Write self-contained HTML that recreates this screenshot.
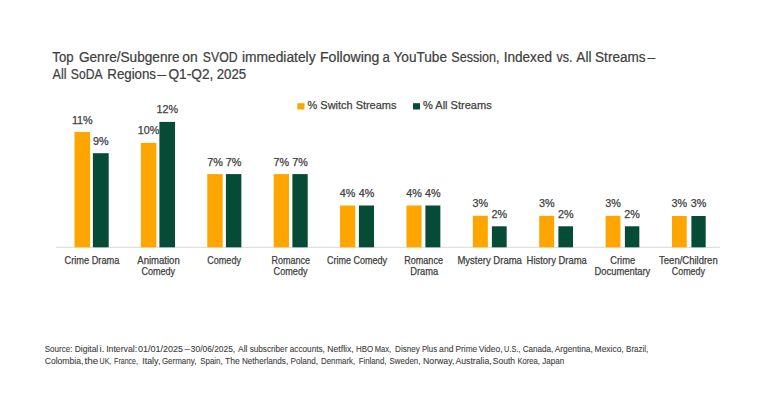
<!DOCTYPE html>
<html><head><meta charset="utf-8"><title>Chart</title>
<style>
html,body{margin:0;padding:0;background:#fff;width:768px;height:402px;overflow:hidden;}
svg{display:block;font-family:"Liberation Sans",sans-serif;}
text{stroke:#404040;stroke-width:0.25px;}
text.ti{stroke-width:0.22px;}
text.src{stroke-width:0.1px;}
</style></head><body>
<svg width="768" height="402" viewBox="0 0 768 402">
<rect width="768" height="402" fill="#fff"/>
<text class="ti" x="52.30" y="61.50" font-size="13.8" fill="#404040" text-anchor="start" textLength="21.30" lengthAdjust="spacingAndGlyphs">Top</text>
<text class="ti" x="78.90" y="61.50" font-size="13.8" fill="#404040" text-anchor="start" textLength="100.70" lengthAdjust="spacingAndGlyphs">Genre/Subgenre</text>
<text class="ti" x="182.20" y="61.50" font-size="13.8" fill="#404040" text-anchor="start" textLength="15.40" lengthAdjust="spacingAndGlyphs">on</text>
<text class="ti" x="202.80" y="61.50" font-size="13.8" fill="#404040" text-anchor="start" textLength="34.70" lengthAdjust="spacingAndGlyphs">SVOD</text>
<text class="ti" x="241.90" y="61.50" font-size="13.8" fill="#404040" text-anchor="start" textLength="73.70" lengthAdjust="spacingAndGlyphs">immediately</text>
<text class="ti" x="320.00" y="61.50" font-size="13.8" fill="#404040" text-anchor="start" textLength="59.40" lengthAdjust="spacingAndGlyphs">Following</text>
<text class="ti" x="382.50" y="61.50" font-size="13.8" fill="#404040" text-anchor="start" textLength="7.30" lengthAdjust="spacingAndGlyphs">a</text>
<text class="ti" x="393.50" y="61.50" font-size="13.8" fill="#404040" text-anchor="start" textLength="53.50" lengthAdjust="spacingAndGlyphs">YouTube</text>
<text class="ti" x="451.30" y="61.50" font-size="13.8" fill="#404040" text-anchor="start" textLength="48.20" lengthAdjust="spacingAndGlyphs">Session,</text>
<text class="ti" x="503.70" y="61.50" font-size="13.8" fill="#404040" text-anchor="start" textLength="48.30" lengthAdjust="spacingAndGlyphs">Indexed</text>
<text class="ti" x="556.40" y="61.50" font-size="13.8" fill="#404040" text-anchor="start" textLength="16.00" lengthAdjust="spacingAndGlyphs">vs.</text>
<text class="ti" x="576.30" y="61.50" font-size="13.8" fill="#404040" text-anchor="start" textLength="15.20" lengthAdjust="spacingAndGlyphs">All</text>
<text class="ti" x="595.10" y="61.50" font-size="13.8" fill="#404040" text-anchor="start" textLength="50.40" lengthAdjust="spacingAndGlyphs">Streams</text>
<text class="ti" x="647.40" y="61.50" font-size="13.8" fill="#404040" text-anchor="start" textLength="7.80" lengthAdjust="spacingAndGlyphs">–</text>
<text class="ti" x="52.60" y="78.60" font-size="13.8" fill="#404040" text-anchor="start" textLength="14.00" lengthAdjust="spacingAndGlyphs">All</text>
<text class="ti" x="70.80" y="78.60" font-size="13.8" fill="#404040" text-anchor="start" textLength="31.70" lengthAdjust="spacingAndGlyphs">SoDA</text>
<text class="ti" x="107.30" y="78.60" font-size="13.8" fill="#404040" text-anchor="start" textLength="48.70" lengthAdjust="spacingAndGlyphs">Regions</text>
<text class="ti" x="157.20" y="78.60" font-size="13.8" fill="#404040" text-anchor="start" textLength="8.90" lengthAdjust="spacingAndGlyphs">–</text>
<text class="ti" x="168.50" y="78.60" font-size="13.8" fill="#404040" text-anchor="start" textLength="44.80" lengthAdjust="spacingAndGlyphs">Q1-Q2,</text>
<text class="ti" x="216.70" y="78.60" font-size="13.8" fill="#404040" text-anchor="start" textLength="29.50" lengthAdjust="spacingAndGlyphs">2025</text>
<rect x="297.3" y="103.2" width="7.2" height="6.3" fill="#FFA500"/>
<text x="307.60" y="109.40" font-size="11.5" fill="#404040" text-anchor="start" textLength="88.80" lengthAdjust="spacingAndGlyphs">% Switch Streams</text>
<rect x="413" y="103.2" width="7" height="6.3" fill="#064B36"/>
<text x="423.00" y="109.40" font-size="11.5" fill="#404040" text-anchor="start" textLength="68.70" lengthAdjust="spacingAndGlyphs">% All Streams</text>
<rect x="56" y="246.8" width="664" height="1" fill="#D9D9D9"/>
<rect x="74.50" y="132" width="15.60" height="115.30" fill="#FFA500"/>
<rect x="92.90" y="153.2" width="15.80" height="94.10" fill="#064B36"/>
<text x="82.30" y="123.80" font-size="10.8" fill="#404040" text-anchor="middle">11%</text>
<text x="100.80" y="144.70" font-size="10.8" fill="#404040" text-anchor="middle">9%</text>
<rect x="140.89" y="142.9" width="15.50" height="104.40" fill="#FFA500"/>
<rect x="159.40" y="121.9" width="15.63" height="125.40" fill="#064B36"/>
<text x="148.64" y="134.30" font-size="10.8" fill="#404040" text-anchor="middle">10%</text>
<text x="167.22" y="112.80" font-size="10.8" fill="#404040" text-anchor="middle">12%</text>
<rect x="207.28" y="174.1" width="15.40" height="73.20" fill="#FFA500"/>
<rect x="225.90" y="174.1" width="15.46" height="73.20" fill="#064B36"/>
<text x="214.98" y="165.70" font-size="10.8" fill="#404040" text-anchor="middle">7%</text>
<text x="233.63" y="165.70" font-size="10.8" fill="#404040" text-anchor="middle">7%</text>
<rect x="273.67" y="174.1" width="15.30" height="73.20" fill="#FFA500"/>
<rect x="292.40" y="174.1" width="15.29" height="73.20" fill="#064B36"/>
<text x="281.32" y="165.70" font-size="10.8" fill="#404040" text-anchor="middle">7%</text>
<text x="300.04" y="165.70" font-size="10.8" fill="#404040" text-anchor="middle">7%</text>
<rect x="340.06" y="205.5" width="15.20" height="41.80" fill="#FFA500"/>
<rect x="358.90" y="205.5" width="15.12" height="41.80" fill="#064B36"/>
<text x="347.66" y="196.90" font-size="10.8" fill="#404040" text-anchor="middle">4%</text>
<text x="366.46" y="196.90" font-size="10.8" fill="#404040" text-anchor="middle">4%</text>
<rect x="406.45" y="205.5" width="15.10" height="41.80" fill="#FFA500"/>
<rect x="425.40" y="205.5" width="14.95" height="41.80" fill="#064B36"/>
<text x="414.00" y="196.90" font-size="10.8" fill="#404040" text-anchor="middle">4%</text>
<text x="432.88" y="196.90" font-size="10.8" fill="#404040" text-anchor="middle">4%</text>
<rect x="472.84" y="215.8" width="15.00" height="31.50" fill="#FFA500"/>
<rect x="491.90" y="226.3" width="14.78" height="21.00" fill="#064B36"/>
<text x="480.34" y="207.30" font-size="10.8" fill="#404040" text-anchor="middle">3%</text>
<text x="499.29" y="218.30" font-size="10.8" fill="#404040" text-anchor="middle">2%</text>
<rect x="539.23" y="215.8" width="14.90" height="31.50" fill="#FFA500"/>
<rect x="558.40" y="226.3" width="14.61" height="21.00" fill="#064B36"/>
<text x="546.68" y="207.30" font-size="10.8" fill="#404040" text-anchor="middle">3%</text>
<text x="565.70" y="218.30" font-size="10.8" fill="#404040" text-anchor="middle">2%</text>
<rect x="605.62" y="215.8" width="14.80" height="31.50" fill="#FFA500"/>
<rect x="624.90" y="226.3" width="14.44" height="21.00" fill="#064B36"/>
<text x="613.02" y="207.30" font-size="10.8" fill="#404040" text-anchor="middle">3%</text>
<text x="632.12" y="218.30" font-size="10.8" fill="#404040" text-anchor="middle">2%</text>
<rect x="672.01" y="216" width="14.70" height="31.30" fill="#FFA500"/>
<rect x="691.40" y="216" width="14.27" height="31.30" fill="#064B36"/>
<text x="679.36" y="207.20" font-size="10.8" fill="#404040" text-anchor="middle">3%</text>
<text x="698.54" y="207.20" font-size="10.8" fill="#404040" text-anchor="middle">3%</text>
<text x="64.50" y="263.70" font-size="10.3" fill="#404040" text-anchor="start" textLength="54.90" lengthAdjust="spacingAndGlyphs">Crime Drama</text>
<text x="137.30" y="263.70" font-size="10.3" fill="#404040" text-anchor="start" textLength="42.40" lengthAdjust="spacingAndGlyphs">Animation</text>
<text x="141.40" y="275.20" font-size="10.3" fill="#404040" text-anchor="start" textLength="33.70" lengthAdjust="spacingAndGlyphs">Comedy</text>
<text x="207.20" y="263.70" font-size="10.3" fill="#404040" text-anchor="start" textLength="33.80" lengthAdjust="spacingAndGlyphs">Comedy</text>
<text x="271.60" y="263.70" font-size="10.3" fill="#404040" text-anchor="start" textLength="38.40" lengthAdjust="spacingAndGlyphs">Romance</text>
<text x="273.60" y="275.20" font-size="10.3" fill="#404040" text-anchor="start" textLength="33.90" lengthAdjust="spacingAndGlyphs">Comedy</text>
<text x="326.90" y="263.70" font-size="10.3" fill="#404040" text-anchor="start" textLength="60.20" lengthAdjust="spacingAndGlyphs">Crime Comedy</text>
<text x="404.20" y="263.70" font-size="10.3" fill="#404040" text-anchor="start" textLength="38.80" lengthAdjust="spacingAndGlyphs">Romance</text>
<text x="410.20" y="275.20" font-size="10.3" fill="#404040" text-anchor="start" textLength="27.90" lengthAdjust="spacingAndGlyphs">Drama</text>
<text x="457.40" y="263.70" font-size="10.3" fill="#404040" text-anchor="start" textLength="64.50" lengthAdjust="spacingAndGlyphs">Mystery Drama</text>
<text x="526.60" y="263.70" font-size="10.3" fill="#404040" text-anchor="start" textLength="60.10" lengthAdjust="spacingAndGlyphs">History Drama</text>
<text x="610.30" y="263.70" font-size="10.3" fill="#404040" text-anchor="start" textLength="24.80" lengthAdjust="spacingAndGlyphs">Crime</text>
<text x="594.60" y="275.20" font-size="10.3" fill="#404040" text-anchor="start" textLength="55.70" lengthAdjust="spacingAndGlyphs">Documentary</text>
<text x="659.10" y="263.70" font-size="10.3" fill="#404040" text-anchor="start" textLength="58.60" lengthAdjust="spacingAndGlyphs">Teen/Children</text>
<text x="671.80" y="275.20" font-size="10.3" fill="#404040" text-anchor="start" textLength="33.20" lengthAdjust="spacingAndGlyphs">Comedy</text>
<text class="src" x="44.70" y="352.30" font-size="8.7" fill="#404040" text-anchor="start" textLength="27.70" lengthAdjust="spacingAndGlyphs">Source:</text>
<text class="src" x="74.80" y="352.30" font-size="8.7" fill="#404040" text-anchor="start" textLength="23.40" lengthAdjust="spacingAndGlyphs">Digital</text>
<text class="src" x="99.60" y="352.30" font-size="8.7" fill="#404040" text-anchor="start" textLength="4.70" lengthAdjust="spacingAndGlyphs">i.</text>
<text class="src" x="106.20" y="352.30" font-size="8.7" fill="#404040" text-anchor="start" textLength="30.90" lengthAdjust="spacingAndGlyphs">Interval:</text>
<text class="src" x="137.90" y="352.30" font-size="8.7" fill="#404040" text-anchor="start" textLength="45.20" lengthAdjust="spacingAndGlyphs">01/01/2025</text>
<text class="src" x="184.60" y="352.30" font-size="8.7" fill="#404040" text-anchor="start" textLength="5.50" lengthAdjust="spacingAndGlyphs">–</text>
<text class="src" x="190.85" y="352.30" font-size="8.7" fill="#404040" text-anchor="start" textLength="44.35" lengthAdjust="spacingAndGlyphs">30/06/2025,</text>
<text class="src" x="238.00" y="352.30" font-size="8.7" fill="#404040" text-anchor="start" textLength="9.40" lengthAdjust="spacingAndGlyphs">All</text>
<text class="src" x="249.70" y="352.30" font-size="8.7" fill="#404040" text-anchor="start" textLength="37.70" lengthAdjust="spacingAndGlyphs">subscriber</text>
<text class="src" x="289.80" y="352.30" font-size="8.7" fill="#404040" text-anchor="start" textLength="35.10" lengthAdjust="spacingAndGlyphs">accounts,</text>
<text class="src" x="327.30" y="352.30" font-size="8.7" fill="#404040" text-anchor="start" textLength="26.40" lengthAdjust="spacingAndGlyphs">Netflix,</text>
<text class="src" x="356.00" y="352.30" font-size="8.7" fill="#404040" text-anchor="start" textLength="17.20" lengthAdjust="spacingAndGlyphs">HBO</text>
<text class="src" x="374.80" y="352.30" font-size="8.7" fill="#404040" text-anchor="start" textLength="16.40" lengthAdjust="spacingAndGlyphs">Max,</text>
<text class="src" x="395.10" y="352.30" font-size="8.7" fill="#404040" text-anchor="start" textLength="24.80" lengthAdjust="spacingAndGlyphs">Disney</text>
<text class="src" x="421.90" y="352.30" font-size="8.7" fill="#404040" text-anchor="start" textLength="15.20" lengthAdjust="spacingAndGlyphs">Plus</text>
<text class="src" x="439.10" y="352.30" font-size="8.7" fill="#404040" text-anchor="start" textLength="14.40" lengthAdjust="spacingAndGlyphs">and</text>
<text class="src" x="455.50" y="352.30" font-size="8.7" fill="#404040" text-anchor="start" textLength="21.70" lengthAdjust="spacingAndGlyphs">Prime</text>
<text class="src" x="478.70" y="352.30" font-size="8.7" fill="#404040" text-anchor="start" textLength="23.90" lengthAdjust="spacingAndGlyphs">Video,</text>
<text class="src" x="504.10" y="352.30" font-size="8.7" fill="#404040" text-anchor="start" textLength="16.30" lengthAdjust="spacingAndGlyphs">U.S.,</text>
<text class="src" x="522.70" y="352.30" font-size="8.7" fill="#404040" text-anchor="start" textLength="30.50" lengthAdjust="spacingAndGlyphs">Canada,</text>
<text class="src" x="554.80" y="352.30" font-size="8.7" fill="#404040" text-anchor="start" textLength="37.90" lengthAdjust="spacingAndGlyphs">Argentina,</text>
<text class="src" x="594.60" y="352.30" font-size="8.7" fill="#404040" text-anchor="start" textLength="29.10" lengthAdjust="spacingAndGlyphs">Mexico,</text>
<text class="src" x="626.10" y="352.30" font-size="8.7" fill="#404040" text-anchor="start" textLength="22.20" lengthAdjust="spacingAndGlyphs">Brazil,</text>
<text class="src" x="44.70" y="363.50" font-size="8.7" fill="#404040" text-anchor="start" textLength="38.70" lengthAdjust="spacingAndGlyphs">Colombia,</text>
<text class="src" x="84.50" y="363.50" font-size="8.7" fill="#404040" text-anchor="start" textLength="13.70" lengthAdjust="spacingAndGlyphs">the</text>
<text class="src" x="99.60" y="363.50" font-size="8.7" fill="#404040" text-anchor="start" textLength="11.70" lengthAdjust="spacingAndGlyphs">UK,</text>
<text class="src" x="114.10" y="363.50" font-size="8.7" fill="#404040" text-anchor="start" textLength="23.80" lengthAdjust="spacingAndGlyphs">France,</text>
<text class="src" x="142.20" y="363.50" font-size="8.7" fill="#404040" text-anchor="start" textLength="18.20" lengthAdjust="spacingAndGlyphs">Italy,</text>
<text class="src" x="161.90" y="363.50" font-size="8.7" fill="#404040" text-anchor="start" textLength="34.50" lengthAdjust="spacingAndGlyphs">Germany,</text>
<text class="src" x="200.20" y="363.50" font-size="8.7" fill="#404040" text-anchor="start" textLength="22.50" lengthAdjust="spacingAndGlyphs">Spain,</text>
<text class="src" x="225.10" y="363.50" font-size="8.7" fill="#404040" text-anchor="start" textLength="14.80" lengthAdjust="spacingAndGlyphs">The</text>
<text class="src" x="241.90" y="363.50" font-size="8.7" fill="#404040" text-anchor="start" textLength="46.30" lengthAdjust="spacingAndGlyphs">Netherlands,</text>
<text class="src" x="290.50" y="363.50" font-size="8.7" fill="#404040" text-anchor="start" textLength="27.40" lengthAdjust="spacingAndGlyphs">Poland,</text>
<text class="src" x="321.00" y="363.50" font-size="8.7" fill="#404040" text-anchor="start" textLength="34.20" lengthAdjust="spacingAndGlyphs">Denmark,</text>
<text class="src" x="358.70" y="363.50" font-size="8.7" fill="#404040" text-anchor="start" textLength="27.80" lengthAdjust="spacingAndGlyphs">Finland,</text>
<text class="src" x="389.60" y="363.50" font-size="8.7" fill="#404040" text-anchor="start" textLength="30.80" lengthAdjust="spacingAndGlyphs">Sweden,</text>
<text class="src" x="423.00" y="363.50" font-size="8.7" fill="#404040" text-anchor="start" textLength="31.30" lengthAdjust="spacingAndGlyphs">Norway,</text>
<text class="src" x="455.50" y="363.50" font-size="8.7" fill="#404040" text-anchor="start" textLength="36.20" lengthAdjust="spacingAndGlyphs">Australia,</text>
<text class="src" x="492.80" y="363.50" font-size="8.7" fill="#404040" text-anchor="start" textLength="22.30" lengthAdjust="spacingAndGlyphs">South</text>
<text class="src" x="517.40" y="363.50" font-size="8.7" fill="#404040" text-anchor="start" textLength="22.50" lengthAdjust="spacingAndGlyphs">Korea,</text>
<text class="src" x="542.30" y="363.50" font-size="8.7" fill="#404040" text-anchor="start" textLength="21.85" lengthAdjust="spacingAndGlyphs">Japan</text>
</svg>
</body></html>
